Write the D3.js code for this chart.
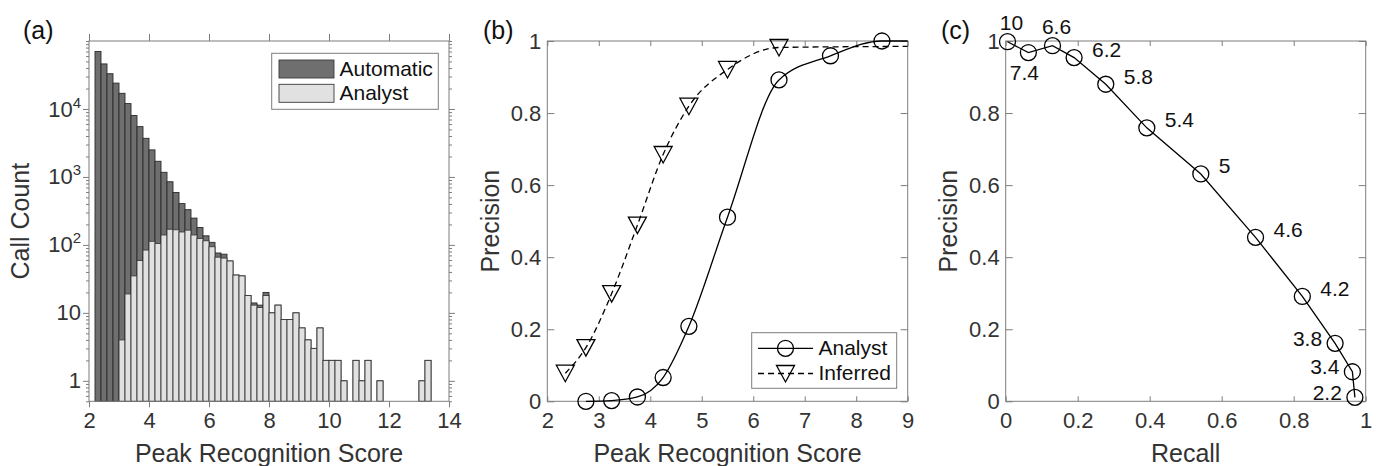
<!DOCTYPE html>
<html>
<head>
<meta charset="utf-8">
<script src="https://cdn.jsdelivr.net/npm/d3@7"></script>
<style>
  body { margin: 0; background: #fff; }
  svg { display: block; font-family: "Liberation Sans", Arial, sans-serif; }
</style>
</head>
<body>
<svg id="fig" width="1377" height="466"></svg>
<script>
// ---------- (a) score histogram ----------
const binStart = [2.2, 2.4, 2.6, 2.8, 3.0, 3.2, 3.4, 3.6, 3.8, 4.0, 4.2, 4.4, 4.6, 4.8,
  5.0, 5.2, 5.4, 5.6, 5.8, 6.0, 6.2, 6.4, 6.6, 6.8, 7.0, 7.2, 7.4, 7.6, 7.8,
  8.0, 8.2, 8.4, 8.6, 8.8, 9.0, 9.2, 9.4, 9.6, 9.8, 10.0, 10.2, 10.4, 10.6, 10.8,
  11.0, 11.2, 11.4, 11.6, 11.8, 12.0, 12.2, 12.4, 12.6, 12.8, 13.0, 13.2];
const binWidth = 0.2;
const automaticCounts = [70000, 46000, 33000, 24000, 17000, 12000, 8000, 5500, 3700, 2500, 1700, 1170, 850, 590,
  405, 330, 248, 180, 136, 109, 76, 73, 58, 36, 35, 18, 14, 13, 20,
  10, 13, 8, 8, 10, 6, 4, 3, 6, 2, 2, 2, 1, 0, 2,
  1, 2, 0, 1, 0, 0, 0, 0, 0, 0, 1, 2];
const analystCounts = [0, 0, 0, 0, 4, 19, 35, 59, 84, 113, 105, 140, 170, 167,
  155, 165, 140, 124, 115, 94, 66, 64, 58, 36, 35, 18, 13, 12, 18,
  10, 13, 8, 8, 10, 6, 4, 3, 6, 2, 2, 2, 1, 0, 2,
  1, 2, 0, 1, 0, 0, 0, 0, 0, 0, 1, 2];
const histXTicks = [2, 4, 6, 8, 10, 12, 14];
const histYTicks = [1, 10, 100, 1000, 10000];
const histYTickLabels = ["1", "10", "10^2", "10^3", "10^4"];
const histLegend = ["Automatic", "Analyst"];

// ---------- (b) precision vs score ----------
const analystScore = [2.75, 3.25, 3.75, 4.25, 4.75, 5.5, 6.5, 7.5, 8.5];
const analystPrecision = [0.0, 0.002, 0.012, 0.066, 0.208, 0.511, 0.892, 0.959, 1.0];
const analystLineEnd = [9, 1.0];
const inferredScore = [2.35, 2.75, 3.25, 3.75, 4.25, 4.75, 5.5, 6.5];
const inferredPrecision = [0.078, 0.149, 0.299, 0.489, 0.685, 0.819, 0.921, 0.982];
const inferredLineEnd = [9, 0.985];
const scoreTicks = [2, 3, 4, 5, 6, 7, 8, 9];
const precisionTicks = [0, 0.2, 0.4, 0.6, 0.8, 1];
const precisionTickLabels = ["0", "0.2", "0.4", "0.6", "0.8", "1"];

// ---------- (c) precision vs recall ----------
const prRecall = [0.005, 0.063, 0.130, 0.190, 0.278, 0.392, 0.542, 0.694, 0.824, 0.915, 0.963, 0.970];
const prPrecision = [0.998, 0.968, 0.987, 0.954, 0.880, 0.759, 0.631, 0.455, 0.291, 0.161, 0.082, 0.011];
const prThreshold = ["10", "7.4", "6.6", "6.2", "5.8", "5.4", "5", "4.6", "4.2", "3.8", "3.4", "2.2"];
const recallTicks = [0, 0.2, 0.4, 0.6, 0.8, 1];
const recallTickLabels = ["0", "0.2", "0.4", "0.6", "0.8", "1"];

// ---------- styling ----------
const AXIS = "#7d7d7d";
const TEXT = "#333333";
const FONT = "'Liberation Sans', Arial, sans-serif";
const TICK_FS = 22, LABEL_FS = 25, PANEL_FS = 25, LEGEND_FS = 21;
const TOP = 41, BOTTOM = 401.3;

const svg = d3.select("#fig");

function styleAxis(g) {
  g.attr("font-family", FONT).attr("font-size", TICK_FS);
  g.select(".domain").remove();
  g.selectAll(".tick line").attr("stroke", AXIS).attr("stroke-width", 1);
  g.selectAll(".tick text").attr("fill", TEXT);
  return g;
}

function frame(x0, x1) {
  svg.append("rect").attr("x", x0).attr("y", TOP).attr("width", x1 - x0).attr("height", BOTTOM - TOP)
    .attr("fill", "none").attr("stroke", AXIS).attr("stroke-width", 1);
}

function axisTitles(cx, xTitle, yx, yTitle, letterX, letter) {
  svg.append("text").attr("x", cx).attr("y", 455).attr("text-anchor", "middle")
    .attr("dominant-baseline", "middle").attr("font-size", LABEL_FS).attr("fill", TEXT).text(xTitle);
  svg.append("text").attr("transform", `translate(${yx},${(TOP + BOTTOM) / 2}) rotate(-90)`)
    .attr("text-anchor", "middle").attr("dominant-baseline", "middle")
    .attr("font-size", LABEL_FS).attr("fill", TEXT).text(yTitle);
  svg.append("text").attr("x", letterX).attr("y", 39).attr("font-size", PANEL_FS).attr("fill", "#111").text(letter);
}

// ================= Panel (a) =================
{
  const x = d3.scaleLinear().domain([2, 14]).range([89, 449]);
  const y = d3.scaleLog().domain([0.5, 1e5]).range([BOTTOM, TOP]);

  const bins = binStart.map((s, i) => ({ s, auto: automaticCounts[i], analyst: analystCounts[i] }));
  const barG = svg.append("g");
  barG.selectAll("rect.auto").data(bins.filter(d => d.auto > 0)).join("rect")
    .attr("class", "auto")
    .attr("x", d => x(d.s)).attr("width", d => x(d.s + binWidth) - x(d.s))
    .attr("y", d => y(d.auto)).attr("height", d => y(0.5) - y(d.auto))
    .attr("fill", "#6f6f6f").attr("stroke", "#2a2a2a").attr("stroke-width", 0.9);
  barG.selectAll("rect.analyst").data(bins.filter(d => d.analyst > 0)).join("rect")
    .attr("class", "analyst")
    .attr("x", d => x(d.s)).attr("width", d => x(d.s + binWidth) - x(d.s))
    .attr("y", d => y(d.analyst)).attr("height", d => y(0.5) - y(d.analyst))
    .attr("fill", "#e1e1e1").attr("stroke", "#3a3a3a").attr("stroke-width", 0.9);

  frame(89, 449);

  // x axes (ticks pointing outward)
  styleAxis(svg.append("g").attr("transform", `translate(0,${BOTTOM})`)
    .call(d3.axisBottom(x).tickValues(histXTicks).tickSize(6).tickPadding(5).tickFormat(d3.format("d"))));
  styleAxis(svg.append("g").attr("transform", `translate(0,${TOP})`)
    .call(d3.axisTop(x).tickValues(histXTicks).tickSize(7).tickFormat("")));

  // log y axes: minor ticks then majors
  const minor = y.ticks().filter(v => !histYTicks.includes(v) && v >= 0.5 && v <= 1e5);
  styleAxis(svg.append("g").attr("transform", "translate(89,0)")
    .call(d3.axisLeft(y).tickValues(minor).tickSize(3).tickFormat("")));
  styleAxis(svg.append("g").attr("transform", "translate(449,0)")
    .call(d3.axisRight(y).tickValues(minor).tickSize(3).tickFormat("")));
  styleAxis(svg.append("g").attr("transform", "translate(449,0)")
    .call(d3.axisRight(y).tickValues(histYTicks).tickSize(6).tickFormat("")));
  const yl = styleAxis(svg.append("g").attr("transform", "translate(89,0)")
    .call(d3.axisLeft(y).tickValues(histYTicks).tickSize(6).tickPadding(2)
      .tickFormat((d, i) => histYTickLabels[i])));
  // superscript exponents
  yl.selectAll(".tick text").each(function () {
    const t = d3.select(this);
    const parts = t.text().split("^");
    if (parts.length === 2) {
      t.text("");
      t.append("tspan").text(parts[0]);
      t.append("tspan").attr("font-size", 15).attr("dy", "-0.6em").text(parts[1]);
    }
  });

  // legend
  const lg = svg.append("g");
  lg.append("rect").attr("x", 271.7).attr("y", 53.3).attr("width", 166.6).attr("height", 56)
    .attr("fill", "#fff").attr("stroke", AXIS);
  const fills = ["#6f6f6f", "#e1e1e1"];
  histLegend.forEach((name, i) => {
    const cy = 69 + i * 24.3;
    lg.append("rect").attr("x", 279).attr("y", cy - 9).attr("width", 55).attr("height", 18)
      .attr("fill", fills[i]).attr("stroke", "#3a3a3a").attr("stroke-width", 0.9);
    lg.append("text").attr("x", 339.5).attr("y", cy + 1).attr("dominant-baseline", "middle")
      .attr("font-size", LEGEND_FS).attr("fill", "#111").text(name);
  });

  axisTitles(269, "Peak Recognition Score", 22, "Call Count", 23, "(a)");
}

// marker helpers
function circleMarker(g, cx, cy) {
  g.append("circle").attr("cx", cx).attr("cy", cy).attr("r", 8)
    .attr("fill", "none").attr("stroke", "#000").attr("stroke-width", 1.3);
}
function triangleMarker(g, cx, cy) {
  g.append("path").attr("d", `M${cx - 9},${cy - 8}L${cx + 9},${cy - 8}L${cx},${cy + 8.5}Z`)
    .attr("fill", "none").attr("stroke", "#000").attr("stroke-width", 1.3);
}

function unitAxes(x, x0, x1, xTicks, xLabels) {
  const y = d3.scaleLinear().domain([0, 1]).range([BOTTOM, TOP]);
  frame(x0, x1);
  styleAxis(svg.append("g").attr("transform", `translate(0,${BOTTOM})`)
    .call(d3.axisBottom(x).tickValues(xTicks).tickSize(-5).tickPadding(11)
      .tickFormat((d, i) => xLabels ? xLabels[i] : d3.format("d")(d))));
  styleAxis(svg.append("g").attr("transform", `translate(0,${TOP})`)
    .call(d3.axisTop(x).tickValues(xTicks).tickSize(-5).tickFormat("")));
  styleAxis(svg.append("g").attr("transform", `translate(${x0},0)`)
    .call(d3.axisLeft(y).tickValues(precisionTicks).tickSize(-7).tickPadding(6)
      .tickFormat((d, i) => precisionTickLabels[i])));
  styleAxis(svg.append("g").attr("transform", `translate(${x1},0)`)
    .call(d3.axisRight(y).tickValues(precisionTicks).tickSize(-7).tickFormat("")));
  return y;
}

// ================= Panel (b) =================
{
  const x0 = 547.3, x1 = 907.7;
  const x = d3.scaleLinear().domain([2, 9]).range([x0, x1]);
  const y = unitAxes(x, x0, x1, scoreTicks, null);

  const line = d3.line().x(d => x(d[0])).y(d => y(d[1])).curve(d3.curveMonotoneX);
  const aPts = analystScore.map((s, i) => [s, analystPrecision[i]]).concat([analystLineEnd]);
  const iPts = inferredScore.map((s, i) => [s, inferredPrecision[i]]).concat([inferredLineEnd]);
  const g = svg.append("g");
  g.append("path").attr("d", line(iPts)).attr("fill", "none").attr("stroke", "#000")
    .attr("stroke-width", 1.3).attr("stroke-dasharray", "6,4");
  g.append("path").attr("d", line(aPts)).attr("fill", "none").attr("stroke", "#000")
    .attr("stroke-width", 1.3);
  inferredScore.forEach((s, i) => triangleMarker(g, x(s), y(inferredPrecision[i])));
  analystScore.forEach((s, i) => circleMarker(g, x(s), y(analystPrecision[i])));

  // legend
  const lg = svg.append("g");
  lg.append("rect").attr("x", 751.7).attr("y", 332.7).attr("width", 145).attr("height", 55.6)
    .attr("fill", "#fff").attr("stroke", AXIS);
  lg.append("line").attr("x1", 758).attr("x2", 813).attr("y1", 348.3).attr("y2", 348.3)
    .attr("stroke", "#000").attr("stroke-width", 1.3);
  circleMarker(lg, 785.5, 348.3);
  lg.append("line").attr("x1", 758).attr("x2", 813).attr("y1", 373.5).attr("y2", 373.5)
    .attr("stroke", "#000").attr("stroke-width", 1.3).attr("stroke-dasharray", "6,4");
  triangleMarker(lg, 785.5, 373.5);
  lg.append("text").attr("x", 818.5).attr("y", 349).attr("dominant-baseline", "middle")
    .attr("font-size", LEGEND_FS).attr("fill", "#111").text("Analyst");
  lg.append("text").attr("x", 818.5).attr("y", 374.5).attr("dominant-baseline", "middle")
    .attr("font-size", LEGEND_FS).attr("fill", "#111").text("Inferred");

  axisTitles((x0 + x1) / 2, "Peak Recognition Score", 492, "Precision", 483, "(b)");
}

// ================= Panel (c) =================
{
  const x0 = 1005.7, x1 = 1365.7;
  const x = d3.scaleLinear().domain([0, 1]).range([x0, x1]);
  const y = unitAxes(x, x0, x1, recallTicks, recallTickLabels);

  const g = svg.append("g");
  const line = d3.line().x(d => x(d[0])).y(d => y(d[1]));
  const pts = prRecall.map((r, i) => [r, prPrecision[i]]);
  g.append("path").attr("d", line(pts)).attr("fill", "none").attr("stroke", "#000").attr("stroke-width", 1.3);
  pts.forEach(p => circleMarker(g, x(p[0]), y(p[1])));

  // threshold annotations: side of the marker each label sits on
  const place = ["above", "below", "above", "right", "right", "right", "right", "right", "right", "left", "left", "left"];
  const offsets = {
    above: { dx: 4, dy: -17, anchor: "middle" },
    below: { dx: -4, dy: 22, anchor: "middle" },
    right: { dx: 18, dy: -6, anchor: "start" },
    left: { dx: -13, dy: -3, anchor: "end" }
  };
  pts.forEach((p, i) => {
    const o = offsets[place[i]];
    g.append("text").attr("x", x(p[0]) + o.dx).attr("y", y(p[1]) + o.dy)
      .attr("text-anchor", o.anchor).attr("dominant-baseline", "middle")
      .attr("font-size", 21).attr("fill", "#111").text(prThreshold[i]);
  });

  axisTitles((x0 + x1) / 2, "Recall", 950, "Precision", 941, "(c)");
}
</script>
</body>
</html>
